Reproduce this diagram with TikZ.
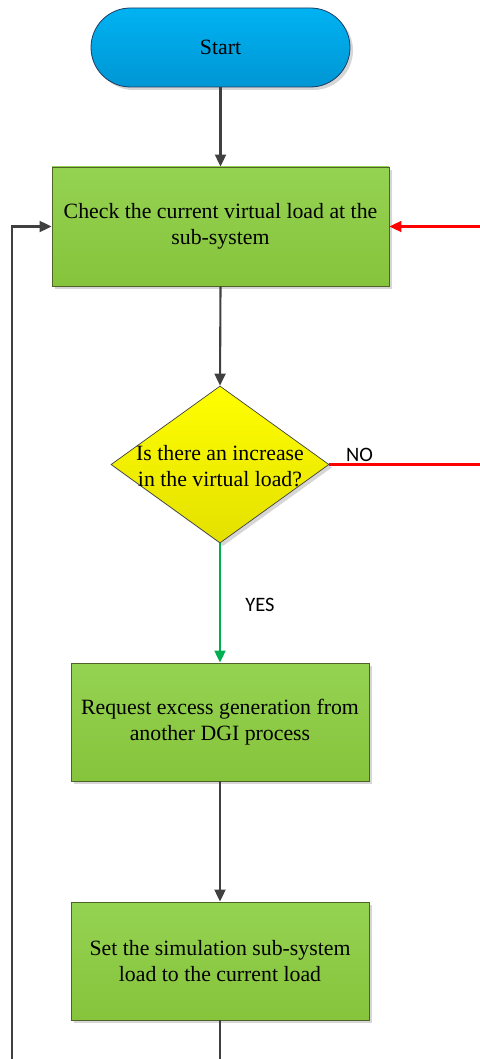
\documentclass[tikz,border=0pt]{standalone}
\usepackage{fontspec}
\setmainfont{Liberation Serif}
\newfontfamily\tagfont{Carlito}
\usetikzlibrary{arrows.meta,shapes.geometric,shadows}

\definecolor{startTop}{HTML}{00B2F2}
\definecolor{startBot}{HTML}{0096D4}
\definecolor{startLine}{HTML}{1F3A60}
\definecolor{boxTop}{HTML}{94D252}
\definecolor{boxBot}{HTML}{86C43C}
\definecolor{boxLine}{HTML}{4F6228}
\definecolor{decTop}{HTML}{FFFF00}
\definecolor{decBot}{HTML}{E4E000}
\definecolor{flowGray}{HTML}{404040}
\definecolor{yesGreen}{HTML}{00B050}
\definecolor{noRed}{HTML}{FF0000}
\definecolor{shadowGray}{HTML}{D6D6D6}

\tikzset{
  txt/.style={font=\fontsize{21.8}{26.5}\selectfont, align=center, text=black},
  shade/.style={drop shadow={shadow xshift=3pt, shadow yshift=-3pt, fill=shadowGray, opacity=1}},
  terminal/.style={rectangle, rounded corners=39.5pt, draw=startLine, line width=0.8pt,
    top color=startTop, bottom color=startBot, minimum width=259pt, minimum height=79pt,
    inner sep=0pt, shade, txt},
  process/.style={rectangle, draw=boxLine, line width=0.9pt, top color=boxTop, bottom color=boxBot,
    inner sep=0pt, shade, txt},
  decision/.style={diamond, draw=flowGray, line width=0.7pt, top color=decTop, bottom color=decBot,
    minimum width=218pt, minimum height=157pt, inner sep=0pt, shade},
  flow/.style={draw=flowGray, line width=2.1pt, -{Triangle[length=12pt,width=11pt]}},
  yesflow/.style={flow, draw=yesGreen, -{Triangle[length=12pt,width=11pt,fill=yesGreen]}},
  noflow/.style={flow, draw=noRed},
  tag/.style={font=\tagfont\fontsize{20.5}{24}\selectfont, text=black, inner sep=0pt},
}

\begin{document}
\begin{tikzpicture}[x=1pt,y=-1pt]
  \useasboundingbox (0,0) rectangle (479,1059);

  % shapes
  \node[terminal] (start) at (220.5,47.5) {Start};
  \node[process, minimum width=337pt, minimum height=119pt] (check) at (220.5,226.5)
    {Check the current virtual load at the\\sub-system};
  \node[decision] (dec) at (220,464.5) {};
  \node[txt, inner sep=0pt] (dectext) at (220,466) {Is there an increase\\in the virtual load?};
  \node[process, minimum width=298pt, minimum height=118pt] (req) at (220,722)
    {Request excess generation from\\another DGI process};
  \node[process, minimum width=298pt, minimum height=118pt] (set) at (220,961)
    {Set the simulation sub-system\\load to the current load};

  % outer turning points of the two loops
  \coordinate (loopL) at (12,1075);
  \coordinate (loopR) at (482,464.5);

  % connectors
  \draw[flow] (start.south) -- (check.north);
  \draw[flow] (check.south) -- (dec.north);
  \draw[yesflow] (dec.south) -- (req.north);
  \draw[flow] (req.south) -- (set.north);
  \draw[flow, line join=miter] (set.south) -- (set.south |- loopL) -- (loopL) |- (check.west);
  \draw[noflow, line join=miter] (dec.east) -- (loopR) |- (check.east);

  % branch labels
  \node[tag] (nolbl) at (359.5,455) {NO};
  \node[tag] (yeslbl) at (260,605) {YES};
\end{tikzpicture}
\end{document}
